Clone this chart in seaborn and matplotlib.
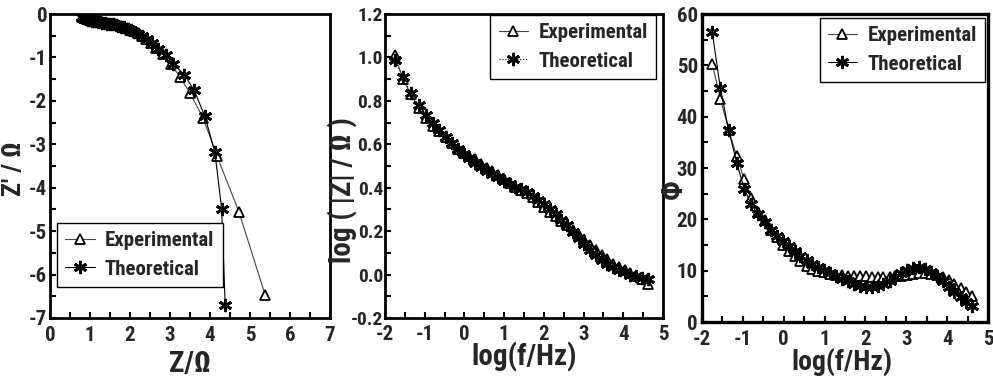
import matplotlib
matplotlib.use("Agg")
import matplotlib.pyplot as plt
from matplotlib import font_manager
from matplotlib.ticker import MultipleLocator
import seaborn as sns

# ---------------- data ----------------
# Nyquist panel (Z' vs Z'')
nyq_exp_re = [5.38, 4.72, 4.18, 3.83, 3.50, 3.25, 3.02, 2.83, 2.66, 2.52, 2.40, 2.29, 2.19, 2.10,
              2.01, 1.93, 1.85, 1.77, 1.70, 1.63, 1.56, 1.49, 1.42, 1.36, 1.30, 1.24, 1.18, 1.13,
              1.08, 1.03, 0.99, 0.95, 0.92, 0.89, 0.86, 0.84, 0.82, 0.80]
nyq_exp_im = [-6.47, -4.55, -3.28, -2.40, -1.82, -1.45, -1.15, -0.93, -0.78, -0.66, -0.57, -0.50,
              -0.44, -0.40, -0.36, -0.33, -0.30, -0.28, -0.26, -0.24, -0.23, -0.22, -0.21, -0.20,
              -0.19, -0.18, -0.17, -0.16, -0.15, -0.14, -0.13, -0.12, -0.11, -0.10, -0.09, -0.08,
              -0.07, -0.06]
nyq_th_re = [4.38, 4.29, 4.12, 3.87, 3.60, 3.36, 3.08, 2.89, 2.70, 2.55, 2.42, 2.31, 2.21, 2.11,
             2.02, 1.94, 1.86, 1.78, 1.71, 1.64, 1.57, 1.50, 1.43, 1.37, 1.31, 1.25, 1.19, 1.14,
             1.09, 1.04, 1.00, 0.96, 0.93, 0.90, 0.87, 0.85, 0.83, 0.81]
nyq_th_im = [-6.70, -4.48, -3.17, -2.35, -1.75, -1.40, -1.14, -0.95, -0.80, -0.67, -0.58, -0.51,
             -0.45, -0.41, -0.37, -0.34, -0.31, -0.29, -0.27, -0.25, -0.24, -0.23, -0.22, -0.21,
             -0.20, -0.19, -0.18, -0.17, -0.16, -0.15, -0.14, -0.13, -0.12, -0.11, -0.10, -0.09,
             -0.08, -0.07]

# Bode panels
log_f = [-1.75, -1.55, -1.35, -1.15, -0.97, -0.80, -0.63, -0.47, -0.32, -0.17, -0.02, 0.12,
         0.27, 0.41, 0.56, 0.70, 0.85, 0.99, 1.14, 1.28, 1.43, 1.57, 1.72, 1.86, 2.01, 2.15,
         2.30, 2.44, 2.59, 2.73, 2.88, 3.02, 3.17, 3.31, 3.46, 3.60, 3.75, 3.89, 4.04, 4.18,
         4.33, 4.47, 4.62]
logz_exp = [1.01, 0.90, 0.83, 0.765, 0.72, 0.685, 0.66, 0.635, 0.605, 0.58, 0.56, 0.545,
            0.53, 0.51, 0.492, 0.475, 0.46, 0.44, 0.42, 0.405, 0.39, 0.375, 0.355, 0.335,
            0.31, 0.29, 0.268, 0.248, 0.226, 0.205, 0.182, 0.158, 0.135, 0.112, 0.09, 0.07,
            0.05, 0.035, 0.02, 0.008, -0.005, -0.02, -0.045]
logz_th = [0.99, 0.91, 0.835, 0.78, 0.735, 0.70, 0.665, 0.635, 0.605, 0.58, 0.555, 0.535,
           0.515, 0.495, 0.478, 0.462, 0.448, 0.433, 0.418, 0.405, 0.392, 0.378, 0.362, 0.345,
           0.325, 0.303, 0.278, 0.252, 0.226, 0.198, 0.17, 0.142, 0.115, 0.09, 0.068, 0.05,
           0.035, 0.022, 0.01, 0.0, -0.008, -0.015, -0.02]
phi_exp = [50.3, 43.5, 37.5, 32.3, 27.8, 24.2, 21.5, 19.8, 18.0, 16.5, 15.0, 13.8, 12.8, 11.8,
           11.0, 10.4, 10.0, 9.7, 9.4, 9.2, 9.1, 9.0, 9.0, 8.9, 8.9, 8.8, 8.8, 8.8, 8.8, 8.9,
           9.0, 9.2, 9.4, 9.5, 9.5, 9.4, 9.2, 8.8, 8.2, 7.5, 6.7, 5.8, 5.0]
phi_th = [56.5, 45.5, 37.5, 31.0, 26.0, 23.0, 21.0, 19.5, 18.0, 16.8, 15.7, 14.8, 13.8, 12.8,
          12.0, 11.3, 10.7, 10.1, 9.6, 9.0, 8.4, 7.9, 7.4, 7.0, 6.8, 6.8, 7.0, 7.4, 8.0, 8.8,
          9.6, 10.2, 10.6, 10.7, 10.4, 9.8, 9.0, 8.0, 6.9, 5.8, 4.8, 3.9, 3.2]

labels = ["Experimental", "Theoretical"]
ticks_nyq = [0, 1, 2, 3, 4, 5, 6, 7]
ticks_nyq_y = [-7, -6, -5, -4, -3, -2, -1, 0]
ticks_f = [-2, -1, 0, 1, 2, 3, 4, 5]
ticks_logz = [-0.2, 0.0, 0.2, 0.4, 0.6, 0.8, 1.0, 1.2]
ticks_phi = [0, 10, 20, 30, 40, 50, 60]

# ---------------- style ----------------
sns.set_style("ticks")
names = {f.name for f in font_manager.fontManager.ttflist}
prefs = ["Liberation Sans Narrow", "DejaVu Sans Condensed", "Roboto Condensed",
         "Open Sans Condensed", "Liberation Sans"]
fams = [p for p in prefs if p in names] + ["DejaVu Sans"]
plt.rcParams["font.family"] = fams
plt.rcParams["font.weight"] = "bold"
plt.rcParams["axes.labelweight"] = "bold"
plt.rcParams["axes.unicode_minus"] = False

fig = plt.figure(figsize=(9.93, 3.78), dpi=100)
W, H = 993, 378
ax1 = fig.add_axes([50 / W, 60 / H, 280 / W, 304 / H])
ax2 = fig.add_axes([385 / W, 60 / H, 278 / W, 304 / H])
ax3 = fig.add_axes([702 / W, 56 / H, 286 / W, 308 / H])

tri = dict(marker="^", markersize=7, markerfacecolor="white", markeredgecolor="black",
           markeredgewidth=1.3)
ast = dict(marker=(6, 2, 0), markersize=9.5, markeredgecolor="black", markeredgewidth=2.0,
           color="black")


def style_axis(ax, xt, yt, xminor, yminor, lw=2.0, ysize=15, ypad=3, xpad=3):
    for s in ax.spines.values():
        s.set_linewidth(lw)
        s.set_color("black")
        s.set_visible(True)
    ax.set_xticks(xt)
    ax.set_yticks(yt)
    ax.xaxis.set_minor_locator(MultipleLocator(xminor))
    ax.yaxis.set_minor_locator(MultipleLocator(yminor))
    ax.tick_params(which="both", direction="in", length=4, width=1.5, color="black",
                   top=False, right=False)
    ax.tick_params(axis="x", which="major", labelsize=15, pad=xpad)
    ax.tick_params(axis="y", which="major", labelsize=ysize, pad=ypad)
    ax.grid(False)


def bold_ticks(ax):
    for lab in ax.get_xticklabels() + ax.get_yticklabels():
        lab.set_fontweight("bold")


leg_kw = dict(fancybox=False, edgecolor="black", framealpha=1, handlelength=1.4,
              borderpad=0.4, labelspacing=0.45, handletextpad=0.5, borderaxespad=0,
              prop={"size": 15, "weight": "bold"})

# Panel 1: Nyquist
sns.lineplot(x=nyq_exp_re, y=nyq_exp_im, ax=ax1, sort=False, estimator=None, color="#444444",
             linewidth=0.8, label=labels[0], **tri)
sns.lineplot(x=nyq_th_re, y=nyq_th_im, ax=ax1, sort=False, estimator=None, linewidth=0.8,
             label=labels[1], **ast)
ax1.set_xlim(0, 7)
ax1.set_ylim(-7, 0)
style_axis(ax1, ticks_nyq, ticks_nyq_y, 0.5, 0.5, xpad=6, ypad=2)
bold_ticks(ax1)
ax1.set_xlabel("Z/Ω", fontsize=21, fontweight="bold")
ax1.set_ylabel("Z' / Ω", fontsize=19, fontweight="bold")
ax1.xaxis.set_label_coords(0.5, -0.105)
ax1.yaxis.set_label_coords(-0.086, 0.49)
ax1.legend(loc="lower left", bbox_to_anchor=(0.025, 0.102), **leg_kw)

# Panel 2: log|Z|
sns.lineplot(x=log_f, y=logz_exp, ax=ax2, sort=False, estimator=None, color="#444444",
             linewidth=0.8, label=labels[0], **tri)
sns.lineplot(x=log_f, y=logz_th, ax=ax2, sort=False, estimator=None, linewidth=0.8,
             linestyle=":", label=labels[1], **ast)
ax2.set_xlim(-2, 5)
ax2.set_ylim(-0.2, 1.2)
style_axis(ax2, ticks_f, ticks_logz, 0.5, 0.1, ysize=14, ypad=1.5, xpad=5)
ax2.set_yticklabels([f"{t:.1f}" for t in ticks_logz])
bold_ticks(ax2)
ax2.set_xlabel("log(f/Hz)", fontsize=21, fontweight="bold")
ax2.set_ylabel("log ( |Z| / Ω )", fontsize=21, fontweight="bold")
ax2.xaxis.set_label_coords(0.5, -0.08)
ax2.yaxis.set_label_coords(-0.097, 0.42)
ax2.legend(loc="upper right", bbox_to_anchor=(0.975, 0.997), **leg_kw)

# Panel 3: phase
sns.lineplot(x=log_f, y=phi_exp, ax=ax3, sort=False, estimator=None, color="#444444",
             linewidth=0.8, label=labels[0], **tri)
sns.lineplot(x=log_f, y=phi_th, ax=ax3, sort=False, estimator=None, linewidth=0.8,
             label=labels[1], **ast)
ax3.set_xlim(-2, 5)
ax3.set_ylim(0, 60)
style_axis(ax3, ticks_f, ticks_phi, 0.5, 5, lw=2.4, xpad=6)
bold_ticks(ax3)
ax3.set_xlabel("log(f/Hz)", fontsize=20, fontweight="bold")
ax3.set_ylabel("Φ", fontsize=21, fontweight="bold")
ax3.xaxis.set_label_coords(0.49, -0.085)
ax3.yaxis.set_label_coords(-0.05, 0.43)
ax3.legend(loc="upper right", bbox_to_anchor=(0.99, 0.987), **leg_kw)

fig.savefig("out.png", dpi=100)
